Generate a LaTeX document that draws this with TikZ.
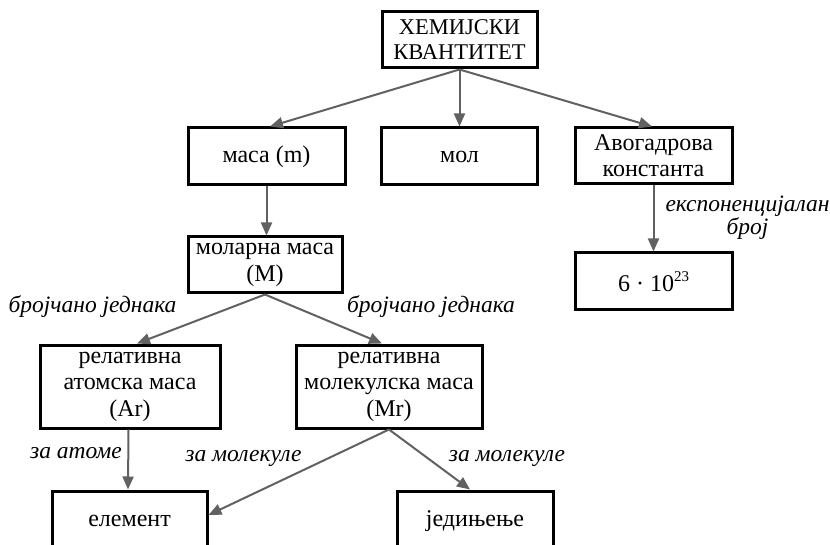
\documentclass[tikz,border=0pt]{standalone}
\usepackage{fontspec}
\setmainfont{Liberation Serif}
\usetikzlibrary{arrows.meta,calc}

\tikzset{
  box/.style={draw=black, line width=3pt, inner sep=0pt, align=center,
    font=\fontsize{24}{26}\selectfont},
  link/.style={draw=black!62, line width=2pt,
    -{Triangle[length=13pt,width=11pt]}},
  note/.style={inner sep=0pt, align=center,
    font=\fontsize{23.5}{21}\itshape\selectfont}
}

\begin{document}
\begin{tikzpicture}[x=1pt, y=-1pt]
  \useasboundingbox (0,0) rectangle (830,545);
  \clip (0,0) rectangle (830,545);

  % concept boxes
  \node[box, minimum width=155pt, minimum height=56pt, font=\fontsize{22.5}{25}\selectfont] (top) at (459.5,40) {ХЕМИЈСКИ\\КВАНТИТЕТ};
  \node[box, minimum width=157pt, minimum height=57pt] (masa) at (266.5,156.5) {маса (m)};
  \node[box, minimum width=156pt, minimum height=57pt] (mol) at (459.5,156.5) {мол};
  \node[box, minimum width=157pt, minimum height=56pt] (avog) at (653.5,156) {Авогадрова\\константа};
  \node[box, minimum width=157pt, minimum height=57pt] (six) at (653.5,281.5)
    {6 · 10\raisebox{0.42em}{\fontsize{15}{15}\selectfont 23}};
  \node[box, minimum width=154pt, minimum height=56pt, font=\fontsize{24}{27}\selectfont] (molar) at (265,265) {моларна маса\\(M)};
  \node[box, minimum width=180pt, minimum height=83pt, font=\fontsize{24}{26.5}\selectfont] (ar) at (130,386.5)
    {релативна\\атомска маса\\(Ar)};
  \node[box, minimum width=186pt, minimum height=83pt, font=\fontsize{24}{26.5}\selectfont] (mr) at (389,386.5)
    {релативна\\молекулска маса\\(Mr)};
  \node[box, minimum width=155pt, minimum height=60pt] (elem) at (129.5,521) {елемент};
  \node[box, minimum width=156pt, minimum height=60pt] (jed) at (475,521) {једињење};

  % connectors
  \draw[link] (top.south) -- ($(masa.north)+(3.5,0)$);
  \draw[link] (top.south) -- (mol.north);
  \draw[link] (top.south) -- ($(avog.north)+(-1.5,0)$);
  \draw[link] (masa.south) -- (masa.south |- molar.north);
  \draw[link] (avog.south) -- (avog.south |- six.north);
  \draw[link] (molar.south) -- ($(ar.north)+(7,0)$);
  \draw[link] (molar.south) -- ($(mr.north)+(-7,0)$);
  \draw[link] ($(ar.south)+(-1.5,0)$) -- ($(elem.north)+(-1.5,0)$);
  \draw[link] (mr.south) -- ($(elem.east)+(0,-6)$);
  \draw[link] (mr.south) -- ($(jed.north)+(-5,0)$);

  % connector labels
  \node[note] (l1) at (92.5,307) {бројчано једнака};
  \node[note] (l2) at (431,307) {бројчано једнака};
  \node[note, font=\fontsize{23.5}{21}\itshape\selectfont] (l3) at (747.5,218) {експоненцијалан\\број};
  \node[note] (l4) at (76,453) {за атоме};
  \node[note] (l5) at (243.5,458) {за молекуле};
  \node[note] (l6) at (507,458) {за молекуле};
\end{tikzpicture}
\end{document}
